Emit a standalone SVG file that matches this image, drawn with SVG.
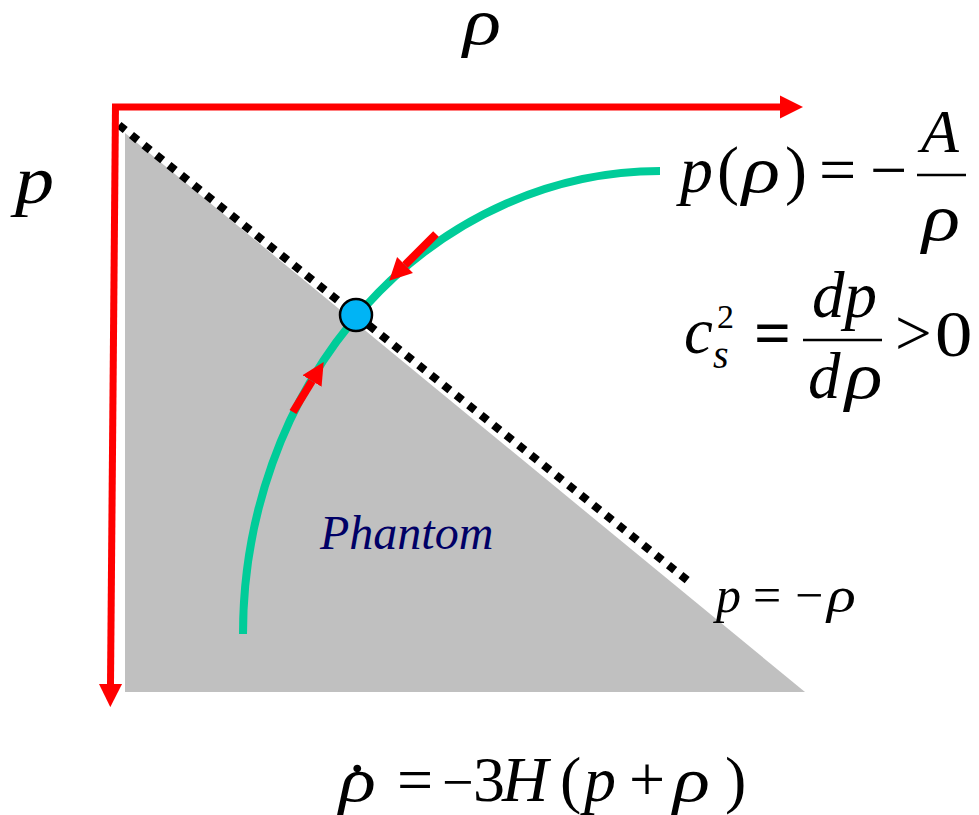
<svg xmlns="http://www.w3.org/2000/svg" width="979" height="815" viewBox="0 0 979 815">
<style>
.mi{font-family:"Liberation Serif","Times New Roman",serif;font-style:italic;fill:#000}
.mr{font-family:"Liberation Serif","Times New Roman",serif;fill:#000}
.axis{stroke:#FF0000;stroke-width:7;fill:none}
.flow{stroke:#FF0000;stroke-width:8;fill:none}
.bar{stroke:#000;stroke-width:2.5}
</style>
<defs>
<marker id="ah" viewBox="0 0 10 10" refX="0" refY="5" markerWidth="3.3" markerHeight="3.5" orient="auto" markerUnits="strokeWidth">
<path d="M0,0 L10,5 L0,10 z" fill="#FF0000"/>
</marker>
<marker id="ahs" viewBox="0 0 10 10" refX="0" refY="5" markerWidth="2.8" markerHeight="3.3" orient="auto" markerUnits="strokeWidth">
<path d="M0,0 L10,5 L0,10 z" fill="#FF0000"/>
</marker>
</defs>
<rect width="979" height="815" fill="#fff"/>
<g id="phantom-region">
<polygon points="125,133 125,692 805,692" fill="#C0C0C0"/>
<text x="320" y="549" font-size="48" style="font-family:'Liberation Serif',serif;font-style:italic" fill="#000066">Phantom</text>
</g>
<g id="line-p-eq-minus-rho">
<line x1="119" y1="125" x2="692" y2="584" stroke="#000" stroke-width="8" stroke-dasharray="8 8"/>
</g>
<g id="curve">
<path d="M243,634 A417,463 0 0 1 660,171" fill="none" stroke="#00CC99" stroke-width="8"/>
</g>
<g id="connectors">
<line class="axis" x1="112" y1="107" x2="780" y2="107" marker-end="url(#ah)"/>
<line class="axis" x1="115.5" y1="104" x2="110.5" y2="684" marker-end="url(#ah)"/>
<line class="flow" x1="436" y1="234" x2="405" y2="265" marker-end="url(#ahs)"/>
<line class="flow" x1="293" y1="412" x2="312" y2="381" marker-end="url(#ahs)"/>
</g>
<g id="point">
<circle cx="356" cy="315" r="16" fill="#00B4F5" stroke="#000" stroke-width="2.5"/>
</g>
<g id="label-rho-axis"><text class="mi" transform="translate(463,44) scale(1.2,1)" font-size="66">ρ</text></g>
<g id="label-p-axis"><text class="mi" transform="translate(15,203) scale(1.15,1)" font-size="68">p</text></g>
<g id="eq-p-rho">
<text class="mi" x="680" y="192" font-size="66">p</text>
<text class="mr" x="717" y="192" font-size="66">(</text>
<text class="mi" transform="translate(742,192) scale(1.2,1)" font-size="66">ρ</text>
<text class="mr" x="785" y="192" font-size="66">)</text>
<text class="mr" x="819" y="192" font-size="66">=</text>
<text class="mr" x="870" y="192" font-size="66">−</text>
<line class="bar" x1="917" y1="175" x2="966" y2="175"/>
<text class="mi" x="921" y="152" font-size="62">A</text>
<text class="mi" transform="translate(922,240) scale(1.2,1)" font-size="66">ρ</text>
</g>
<g id="eq-cs2">
<text class="mi" x="684" y="353" font-size="65">c</text>
<text class="mr" x="717" y="328" font-size="34">2</text>
<text class="mi" x="713" y="368" font-size="40">s</text>
<text class="mr" x="754" y="355" font-size="65" font-weight="bold">=</text>
<line class="bar" x1="803" y1="340" x2="882" y2="340"/>
<text class="mi" x="812" y="317" font-size="65">dp</text>
<text class="mi" x="808" y="398" font-size="65">d</text>
<text class="mi" transform="translate(845,398) scale(1.2,1)" font-size="65">ρ</text>
<text class="mr" x="895" y="355" font-size="65">&gt;</text>
<text class="mr" transform="translate(935,356) scale(1.15,1)" font-size="65">0</text>
</g>
<g id="eq-p-minus-rho">
<text class="mi" x="716" y="612" font-size="50">p</text>
<text class="mr" x="753" y="612" font-size="50">=</text>
<text class="mr" x="795" y="612" font-size="50">−</text>
<text class="mi" transform="translate(827,612) scale(1.2,1)" font-size="50">ρ</text>
</g>
<g id="eq-rho-dot">
<text class="mi" transform="translate(339,801) scale(1.2,1)" font-size="64">ρ</text>
<text class="mr" x="349" y="772" font-size="66">.</text>
<text class="mr" x="397" y="801" font-size="64">=</text>
<text class="mr" x="442" y="801" font-size="56">−</text>
<text class="mr" x="473" y="801" font-size="64">3</text>
<text class="mi" x="502" y="801" font-size="64">H</text>
<text class="mr" x="560" y="801" font-size="64">(</text>
<text class="mi" x="584" y="801" font-size="64">p</text>
<text class="mr" x="629" y="801" font-size="64">+</text>
<text class="mi" transform="translate(673,801) scale(1.2,1)" font-size="64">ρ</text>
<text class="mr" x="725" y="801" font-size="64">)</text>
</g>
</svg>
